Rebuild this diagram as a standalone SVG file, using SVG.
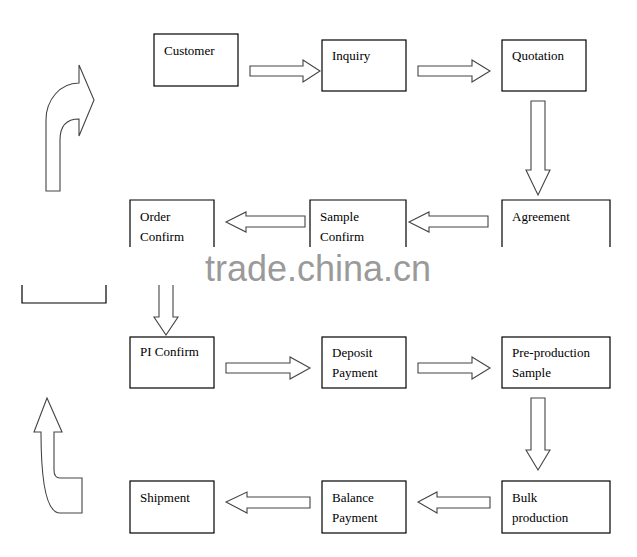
<svg xmlns="http://www.w3.org/2000/svg" width="637" height="557" viewBox="0 0 637 557">
<style>
.b{fill:#fff;stroke:#000;stroke-width:1.2}
.o{fill:none;stroke:#000;stroke-width:1.2}
.a{fill:#fff;stroke:#444;stroke-width:1.1}
.t{font-family:'Liberation Serif','Times New Roman','DejaVu Serif',serif;font-size:13px;fill:#000}
.wm{font-family:'Liberation Sans',Arial,sans-serif;font-size:36px;fill:#9a9a9a}
</style>
<rect width="637" height="557" fill="#fff"/>
<g id="customer"><rect class="b" x="154" y="34" width="84" height="52"/><text class="t" x="164" y="55">Customer</text></g>
<g id="inquiry"><rect class="b" x="322" y="40" width="84" height="51"/><text class="t" x="332" y="60">Inquiry</text></g>
<g id="quotation"><rect class="b" x="502" y="40" width="84" height="51"/><text class="t" x="512" y="60">Quotation</text></g>
<g id="order"><path class="o" d="M130,247V200H214V247"/><text class="t" x="140" y="221">Order</text><text class="t" x="140" y="241">Confirm</text></g>
<g id="sample"><path class="o" d="M310,247V200H406V247"/><text class="t" x="320" y="221">Sample</text><text class="t" x="320" y="241">Confirm</text></g>
<g id="agreement"><path class="o" d="M502,247V200H610V247"/><text class="t" x="512" y="221">Agreement</text></g>
<g id="bracket"><path class="o" d="M22,285V303H106V285"/></g>
<g id="pi"><rect class="b" x="130" y="337" width="84" height="51"/><text class="t" x="140" y="356">PI Confirm</text></g>
<g id="deposit"><rect class="b" x="322" y="337" width="84" height="51"/><text class="t" x="332" y="357">Deposit</text><text class="t" x="332" y="377">Payment</text></g>
<g id="preprod"><rect class="b" x="502" y="337" width="108" height="51"/><text class="t" x="512" y="357">Pre-production</text><text class="t" x="512" y="377">Sample</text></g>
<g id="shipment"><rect class="b" x="130" y="481" width="84" height="52"/><text class="t" x="140" y="502">Shipment</text></g>
<g id="balance"><rect class="b" x="322" y="481" width="84" height="52"/><text class="t" x="332" y="502">Balance</text><text class="t" x="332" y="522">Payment</text></g>
<g id="bulk"><rect class="b" x="502" y="481" width="108" height="52"/><text class="t" x="512" y="502">Bulk</text><text class="t" x="512" y="522">production</text></g>
<g id="connectors">
<path class="a" d="M250,66H303V60L320,71L303,82V76H250Z"/>
<path class="a" d="M418,66H472V60L490,71L472,82V76H418Z"/>
<path class="a" d="M531,101H545V170H550L538,195L526,170H531Z"/>
<path class="a" d="M488,216H429V212L409,222L429,232V227H488Z"/>
<path class="a" d="M305,216H246V212L226,222L246,232V227H305Z"/>
<path class="a" d="M159,285V317H154L166,335L178,317H173V285"/>
<path class="a" d="M226,363H290V357L310,368L290,379V373H226Z"/>
<path class="a" d="M418,363H472V357L490,368L472,379V373H418Z"/>
<path class="a" d="M531,398H545V450H550L538,470L526,450H531Z"/>
<path class="a" d="M490,497H437V492L418,502L437,513V508H490Z"/>
<path class="a" d="M310,497H247V492L226,502L247,513V508H310Z"/>
<path class="a" d="M46,191V120C46,100 60,83 79,83V65L94,100L79,136V119C68,119 60,125 60,140V191Z"/>
<path class="a" d="M47,398L62,432H54V470C54,476 56,478 60,478H82V513H60C48,513 41,490 41,432H34Z"/>
</g>
<text class="wm" x="205" y="281">trade.china.cn</text>
</svg>
